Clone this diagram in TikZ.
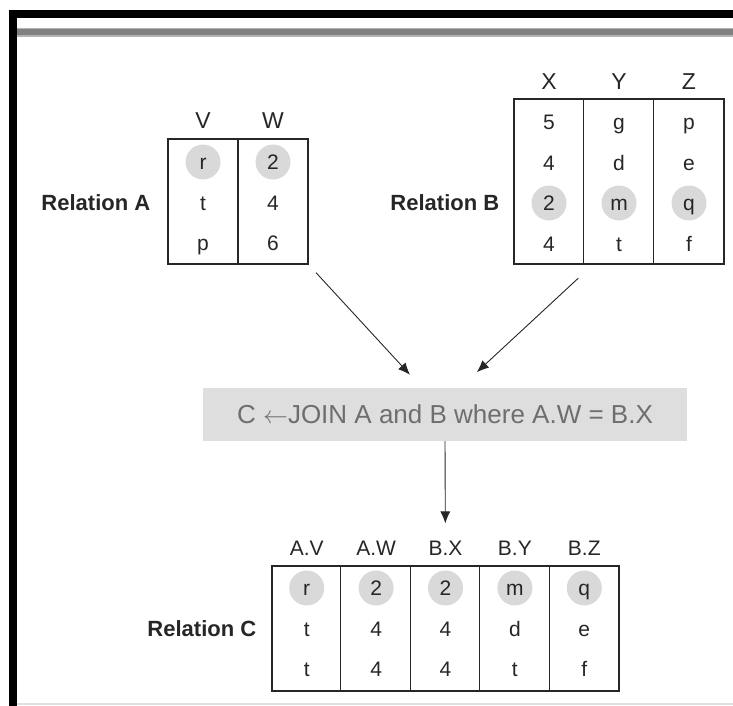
\documentclass[tikz,border=0pt]{standalone}
\usepackage{fontspec}
\setmainfont{Liberation Sans}
\usetikzlibrary{positioning,arrows.meta}
\definecolor{ink}{HTML}{262626}
\definecolor{hitgray}{HTML}{D9D9D9}
\definecolor{boxgray}{HTML}{DEDEDE}
\definecolor{querytext}{HTML}{6E6E6E}
\definecolor{bandgray}{HTML}{808080}

\begin{document}
\begin{tikzpicture}[
      x=1pt, y=-1pt,
      every node/.style={text=ink, inner sep=0pt},
      rel/.style={draw=ink, line width=1.1pt},
      divider/.style={draw=ink, line width=1.1pt},
      head/.style={font=\fontsize{23}{27}\selectfont, text height=16.5pt, text depth=0pt},
      headc/.style={font=\fontsize{21}{25}\selectfont, text height=15pt, text depth=0pt},
      cell/.style={font=\fontsize{21}{25}\selectfont, text height=15pt, text depth=0pt},
      hit/.style={circle, fill=hitgray, minimum size=35pt},
      nohit/.style={},
      relname/.style={font=\bfseries\fontsize{22}{26}\selectfont, anchor=east,
                      text height=15.8pt, text depth=0pt},
      query/.style={fill=boxgray, text=querytext, font=\fontsize{26}{30}\selectfont,
                    minimum width=484pt, minimum height=53pt},
      arrow/.style={-{Latex[length=12pt, width=10pt]}, draw=ink, line width=0.9pt},
  ]
    % Page frame
    \useasboundingbox (0,0) rectangle (733,706);
    \fill[black] (9,10) rectangle (733,18);
    \fill[black] (9,10) rectangle (17,706);
    \fill[bandgray!60] (17,28) rectangle (733,37);
    \fill[bandgray] (17,29.5) rectangle (733,35.5);
    \fill[black!12] (17,703) rectangle (733,705);

    % Relation A
    \node[rel, minimum width=140pt, minimum height=125pt] (tA) at (238,201.5) {};
    \draw[divider] (tA.north) -- (tA.south);
    \foreach \h [count=\c] in {V,W}
      \node[head] (hA\c) at (168+70*\c-35,120) {\h};
    \foreach \s/\v/\w [count=\r] in {hit/r/2, nohit/t/4, nohit/p/6} {
      \node[cell, \s] (a\r-1) at (203,121.5+40.5*\r) {\v};
      \node[cell, \s] (a\r-2) at (273,121.5+40.5*\r) {\w};
    }
    \node[relname, xshift=-17pt] (nA) at (tA.west |- a2-1) {Relation A};

    % Relation B
    \node[rel, minimum width=210pt, minimum height=165pt] (tB) at (619,181.5) {};
    \foreach \c in {1,2}
      \draw[divider] ([xshift={70*\c}]tB.north west) -- ([xshift={70*\c}]tB.south west);
    \foreach \h [count=\c] in {X,Y,Z}
      \node[head] (hB\c) at (514+70*\c-35,81) {\h};
    \foreach \s/\x/\y/\z [count=\r] in {nohit/5/g/p, nohit/4/d/e, hit/2/m/q, nohit/4/t/f} {
      \node[cell, \s] (b\r-1) at (549,81.5+40.5*\r) {\x};
      \node[cell, \s] (b\r-2) at (619,81.5+40.5*\r) {\y};
      \node[cell, \s] (b\r-3) at (689,81.5+40.5*\r) {\z};
    }
    \node[relname, xshift=-14pt] (nB) at (tB.west |- b3-1) {Relation B};

    % Join query
    \node[query] (qry) at (445,414.5) {C $\leftarrow$JOIN A and B where A.W = B.X};
    \draw[arrow, shorten <=11pt, shorten >=17.7pt] (tA.south east) -- ([xshift=-23pt]qry.north);
    \draw[arrow, shorten <=20pt, shorten >=23pt] ([xshift=-26pt]tB.south) -- ([xshift=15pt]qry.north);

    % Relation C
    \node[rel, minimum width=347pt, minimum height=125pt] (tC) at (445.5,628.5) {};
    \foreach \c in {1,...,4}
      \draw[divider] ([xshift={69.4*\c}]tC.north west) -- ([xshift={69.4*\c}]tC.south west);
    \foreach \h [count=\c] in {A.V,A.W,B.X,B.Y,B.Z}
      \node[headc] (hC\c) at (272+69.4*\c-34.7,548) {\h};
    \foreach \s/\v/\w/\x/\y/\z [count=\r] in {hit/r/2/2/m/q, nohit/t/4/4/d/e, nohit/t/4/4/t/f}
      \foreach \val [count=\c] in {\v,\w,\x,\y,\z}
        \node[cell, \s] (c\r-\c) at (272+69.4*\c-34.7,547.5+40.5*\r) {\val};
    \node[relname, xshift=-15pt] (nC) at (tC.west |- c2-1) {Relation C};
    \draw[arrow, shorten >=42pt] (qry.south) -- (tC.north);
  \end{tikzpicture}
\end{document}
